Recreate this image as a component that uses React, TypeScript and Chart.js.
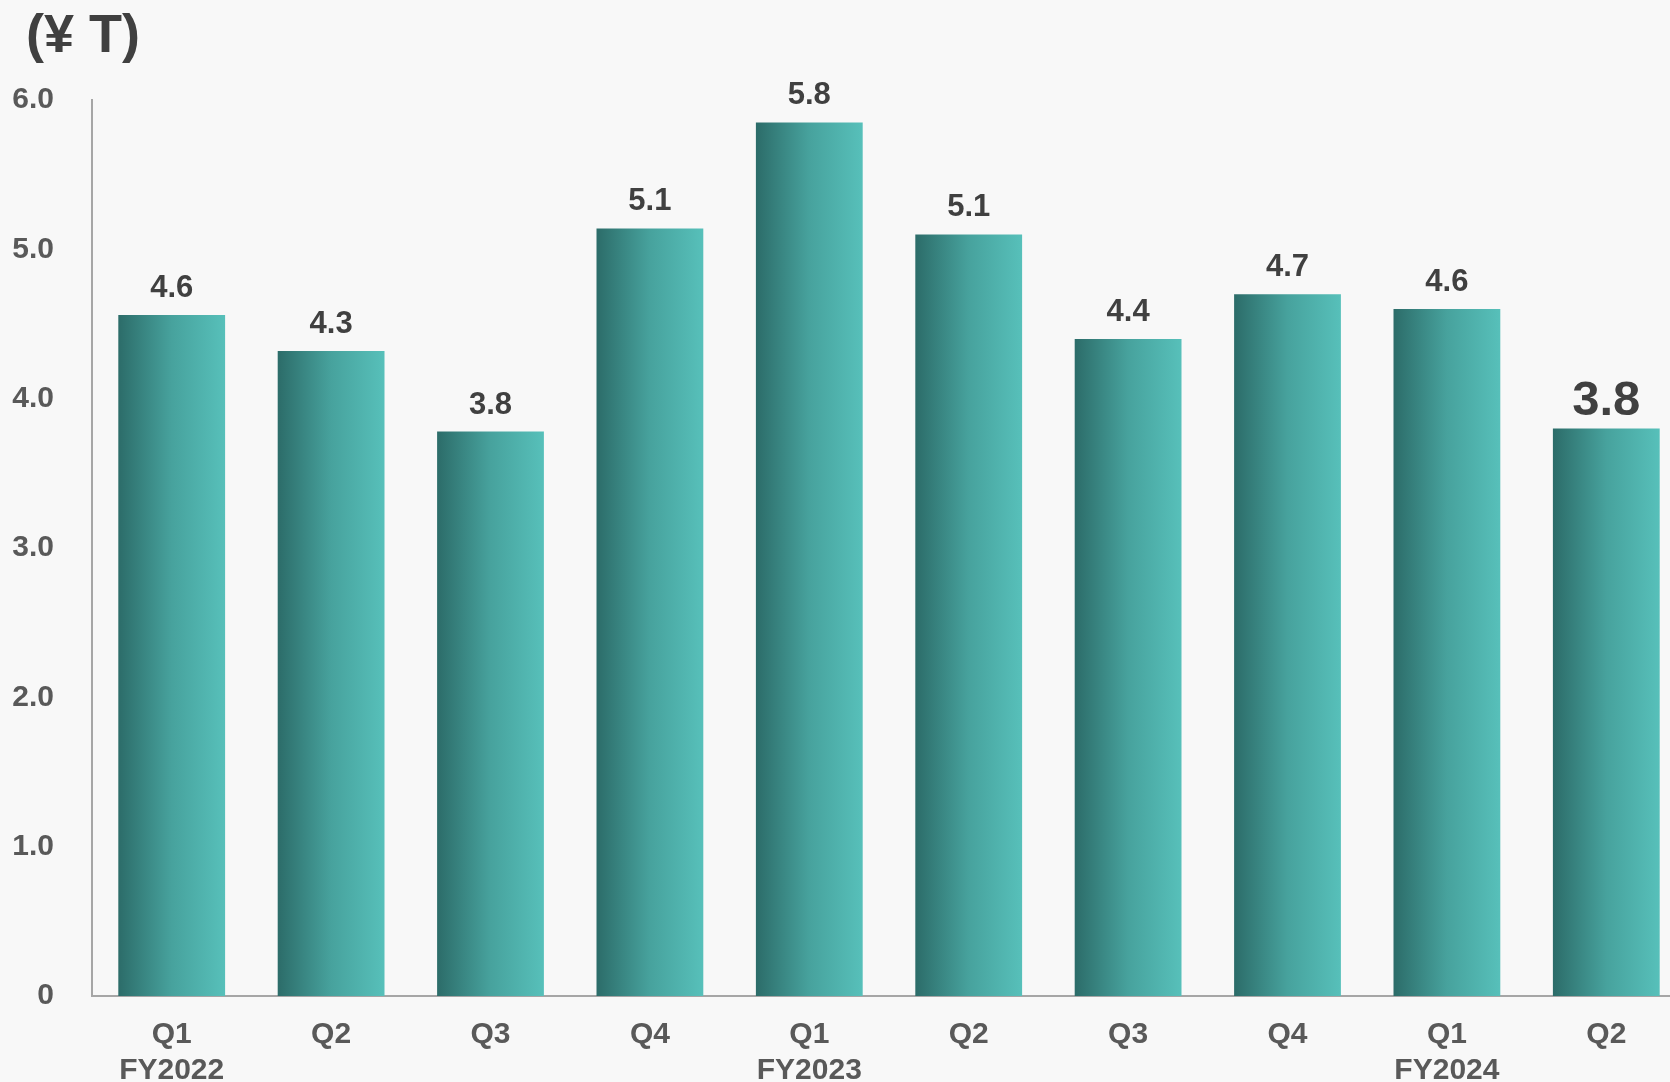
import React, { useEffect, useRef } from "react";
import { Chart, registerables } from "chart.js";

Chart.register(...registerables);

const quarters = ["Q1", "Q2", "Q3", "Q4", "Q1", "Q2", "Q3", "Q4", "Q1", "Q2"];
const fiscalYears = ["FY2022", "", "", "", "FY2023", "", "", "", "FY2024", ""];
const values = [4.56, 4.32, 3.78, 5.14, 5.85, 5.1, 4.4, 4.7, 4.6, 3.8];
const valueLabels = ["4.6", "4.3", "3.8", "5.1", "5.8", "5.1", "4.4", "4.7", "4.6", "3.8"];
const yTickLabels = ["0", "1.0", "2.0", "3.0", "4.0", "5.0", "6.0"];
const unitLabel = "(¥ T)";

const FONT = "'Liberation Sans', Arial, sans-serif";

export default function App() {
  const ref = useRef<HTMLCanvasElement | null>(null);

  useEffect(() => {
    const canvas = ref.current;
    if (!canvas) return;
    const labels = quarters.map((q, i) => (fiscalYears[i] ? [q, fiscalYears[i]] : q));

    const labelPlugin = {
      id: "valueLabels",
      afterDatasetsDraw(chart: any) {
        const ctx = chart.ctx;
        const meta = chart.getDatasetMeta(0);
        ctx.save();
        ctx.fillStyle = "#404040";
        ctx.textAlign = "center";
        ctx.textBaseline = "alphabetic";
        meta.data.forEach((bar: any, i: number) => {
          const last = i === meta.data.length - 1;
          ctx.font = `bold ${last ? 49 : 31}px ${FONT}`;
          ctx.fillText(valueLabels[i], bar.x, bar.y - (last ? 14 : 18));
        });
        ctx.font = `bold 54px ${FONT}`;
        ctx.textAlign = "left";
        ctx.fillText(unitLabel, 26, 52);
        ctx.restore();
      },
    };

    const chart = new Chart(canvas, {
      type: "bar",
      data: {
        labels,
        datasets: [
          {
            data: values,
            barPercentage: 0.67,
            categoryPercentage: 1,
            backgroundColor: (c: any) => {
              const ch = c.chart;
              const xs = ch.scales?.x;
              if (!xs || c.dataIndex === undefined) return "#45A09B";
              const cw = xs.width / values.length;
              const cx = xs.getPixelForValue(c.dataIndex);
              const half = (cw * 0.67) / 2;
              if (!isFinite(cx) || !isFinite(half) || half <= 0) return "#45A09B";
              const g = ch.ctx.createLinearGradient(cx - half, 0, cx + half, 0);
              g.addColorStop(0, "#2C6C69");
              g.addColorStop(0.5, "#47A29D");
              g.addColorStop(1, "#57C0BA");
              return g;
            },
            borderWidth: 0,
          },
        ],
      },
      options: {
        responsive: false,
        animation: false,
        layout: { padding: { top: 100, right: 0, left: 0, bottom: 0 } },
        plugins: {
          legend: { display: false },
          tooltip: { enabled: false },
          title: { display: false },
        },
        scales: {
          x: {
            grid: { display: false, drawTicks: false, tickLength: 0 },
            border: { display: true, color: "#A6A6A6", width: 2 },
            ticks: {
              color: "#595959",
              font: { family: FONT, size: 30, weight: "bold", lineHeight: 1.2 },
              padding: 21,
              maxRotation: 0,
              autoSkip: false,
            },
            afterFit: (s: any) => {
              s.height = 86;
            },
          },
          y: {
            min: 0,
            max: 6,
            grid: { display: false, drawTicks: false, tickLength: 0 },
            border: { display: true, color: "#A6A6A6", width: 2 },
            ticks: {
              stepSize: 1,
              color: "#595959",
              font: { family: FONT, size: 30, weight: "bold" },
              padding: 38,
              callback: (_v: any, i: number) => yTickLabels[i],
            },
            afterFit: (s: any) => {
              s.width = 92;
            },
          },
        },
      },
      plugins: [labelPlugin],
    } as any);

    return () => chart.destroy();
  }, []);

  return (
    <div
      style={{
        position: "fixed",
        left: 0,
        top: 0,
        width: 1670,
        height: 1082,
        overflow: "hidden",
        background: "#F8F8F8",
      }}
    >
      <canvas ref={ref} width={1686} height={1082} style={{ display: "block" }} />
    </div>
  );
}
